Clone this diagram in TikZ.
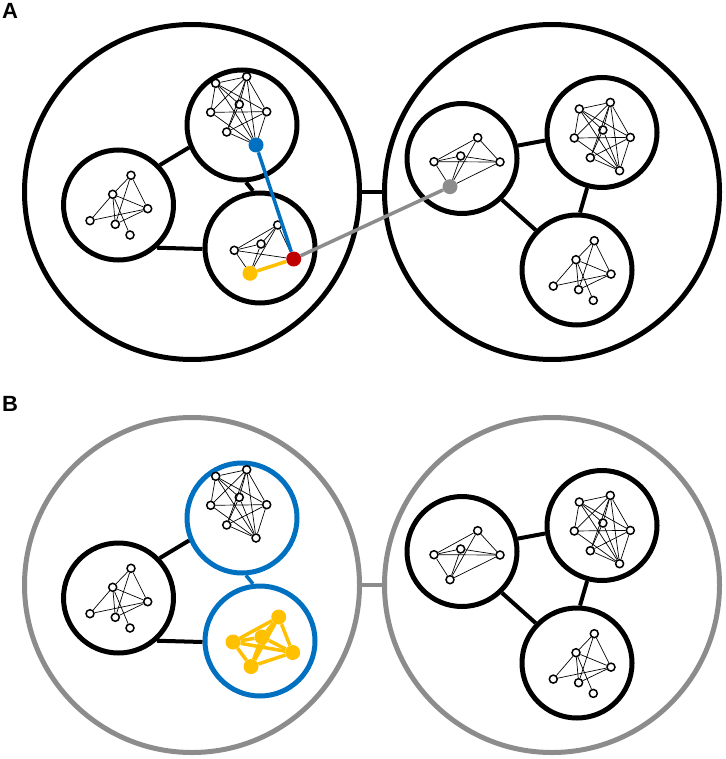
\documentclass[tikz,border=0pt]{standalone}
\usepackage{fontspec}
\setmainfont{Liberation Sans}
\definecolor{cblue}{HTML}{0070C0}
\definecolor{cred}{HTML}{C00000}
\definecolor{cyellow}{HTML}{FFC000}
\definecolor{cgray}{HTML}{8C8C8C}
\tikzset{
  bigc/.style={circle, draw=#1, line width=5pt, minimum size=335pt, inner sep=0pt},
  smallc/.style={circle, draw=#1, line width=5pt, minimum size=110pt, inner sep=0pt},
  clink/.style={line width=4pt, draw=#1},
  nd/.style={circle, draw=black, fill=white, line width=1.5pt, minimum size=8pt, inner sep=0pt},
  thinedge/.style={line width=0.7pt, draw=black},
  cnode/.style={circle, fill=#1, draw=none, minimum size=15pt, inner sep=0pt},
  cline/.style={line width=3.5pt, draw=#1},
  lab/.style={font=\bfseries\fontsize{22}{22}\selectfont, inner sep=0pt}
}
% dense network: prefix, x, y, style of node 7
\newcommand\mkdense[4]{%
  \foreach \i/\dx/\dy in {1/0/0, 2/31/-6.6, 3/23.6/21, 4/-5/29, 5/51/28.4, 6/11/48.7}
    \node[nd] (#1\i) at ({#2+\dx},{#3+\dy}) {};
  \node[#4] (#17) at ({#2+40.3},{#3+61.7}) {};
  \foreach \a/\b in {1/2,1/3,1/4,1/5,1/7,2/3,2/4,2/5,2/6,2/7,3/6,3/7,4/5,4/7,5/6,5/7,6/7}
    \draw[thinedge] (#1\a) -- (#1\b);
}
% sparse network: prefix, x, y
\newcommand\mksparse[3]{%
  \foreach \i/\dx/\dy in {1/0/0, 2/-18.3/19, 3/16.7/33.4, 4/-41/45.4, 5/-15.7/49, 6/-1/59.7}
    \node[nd] (#1\i) at ({#2+\dx},{#3+\dy}) {};
  \foreach \a/\b in {1/2,1/3,1/5,2/3,2/4,2/5,2/6,3/4,3/5}
    \draw[thinedge] (#1\a) -- (#1\b);
}
% small 5-node network: prefix, x, y, style of node 5
\newcommand\mkfive[4]{%
  \foreach \i/\dx/\dy in {1/0/0, 2/-17/18.3, 3/-43.7/24, 4/22.3/24.3}
    \node[nd] (#1\i) at ({#2+\dx},{#3+\dy}) {};
  \node[#4] (#15) at ({#2-27.7},{#3+49}) {};
  \foreach \a/\b in {1/3,1/4,1/5,2/3,2/4,2/5,3/4,3/5,4/5}
    \draw[thinedge] (#1\a) -- (#1\b);
}
\begin{document}
\begin{tikzpicture}[x=1pt,y=-1pt]
\useasboundingbox (0,0) rectangle (725,759);
\fill[white] (0,0) rectangle (725,759);

% ================= Panel A =================
\node[lab] (labA) at (10,11) {A};
\node[bigc=black] (AL) at (192,192) {};
\node[bigc=black] (AR) at (552,192) {};
\draw[clink=black] (AL.0) -- (AR.180);

\node[smallc=black] (Atop) at (242,125) {};
\node[smallc=black] (Aleft) at (118.5,205) {};
\node[smallc=black] (Abot) at (260,248) {};
\node[smallc=black] (Arl) at (462,158.5) {};
\node[smallc=black] (Atr) at (602,132.5) {};
\node[smallc=black] (Abr) at (577,270) {};

\draw[clink=black] (Aleft.44) -- (Atop.203);
\draw[clink=black] (Aleft.-48) -- (Abot.181);
\draw[clink=black] (Atop.-86) -- (Abot.97);
\draw[clink=black] (Arl.13) -- (Atr.188);
\draw[clink=black] (Arl.-46) -- (Abr.136);
\draw[clink=black] (Atr.-105) -- (Abr.87);

\mkdense{at}{215.7}{83.3}{cnode=cblue}
\mkdense{atr}{579.3}{109}{nd}
\mksparse{al}{131}{175.3}
\mksparse{abr}{594.3}{240.7}
\mkfive{arl}{477.7}{137.7}{cnode=cgray}

% bottom-middle network of A
\node[nd] (ab1) at (277.7,225) {};
\node[nd] (ab2) at (261,244) {};
\node[nd] (ab3) at (234.3,250.3) {};
\node[cnode=cred] (ab4) at (293.7,259) {};
\node[cnode=cyellow] (ab5) at (250,273.3) {};
\foreach \a/\b in {1/2,1/3,1/4,1/5,2/3,2/5,3/4,3/5}
  \draw[thinedge] (ab\a) -- (ab\b);

\draw[cline=cblue] (at7) -- (ab4);
\draw[cline=cyellow] (ab5) -- (ab4);
\draw[cline=cgray] (ab4) -- (arl5);

% ================= Panel B =================
\node[lab] (labB) at (10,404) {B};
\node[bigc=cgray] (BL) at (192,585) {};
\node[bigc=cgray] (BR) at (552,585) {};
\draw[clink=cgray] (BL.0) -- (BR.180);

\node[smallc=cblue] (Btop) at (242,518) {};
\node[smallc=black] (Bleft) at (118.5,598) {};
\node[smallc=cblue] (Bbot) at (260,641) {};
\node[smallc=black] (Brl) at (462,551.5) {};
\node[smallc=black] (Btr) at (602,525.5) {};
\node[smallc=black] (Bbr) at (577,663) {};

\draw[clink=black] (Bleft.44) -- (Btop.203);
\draw[clink=black] (Bleft.-48) -- (Bbot.181);
\draw[line width=3.5pt, draw=cblue] (Btop.-86) -- (Bbot.97);
\draw[clink=black] (Brl.13) -- (Btr.188);
\draw[clink=black] (Brl.-46) -- (Bbr.136);
\draw[clink=black] (Btr.-105) -- (Bbr.87);

\mkdense{bt}{215.7}{476.3}{nd}
\mkdense{btr}{579.3}{502}{nd}
\mksparse{bl}{131}{568.3}
\mksparse{bbr}{594.3}{633.7}
\mkfive{brl}{477.7}{530.7}{nd}

% yellow network in B
\node[cnode=cyellow] (by1) at (278.7,617) {};
\node[cnode=cyellow] (by2) at (262,637) {};
\node[cnode=cyellow] (by3) at (233,642) {};
\node[cnode=cyellow] (by4) at (292.7,652.5) {};
\node[cnode=cyellow] (by5) at (251,666.5) {};
\foreach \a/\b in {1/2,1/3,1/4,1/5,2/3,2/4,2/5,3/4,3/5,4/5}
  \draw[cline=cyellow] (by\a) -- (by\b);
\end{tikzpicture}
\end{document}
